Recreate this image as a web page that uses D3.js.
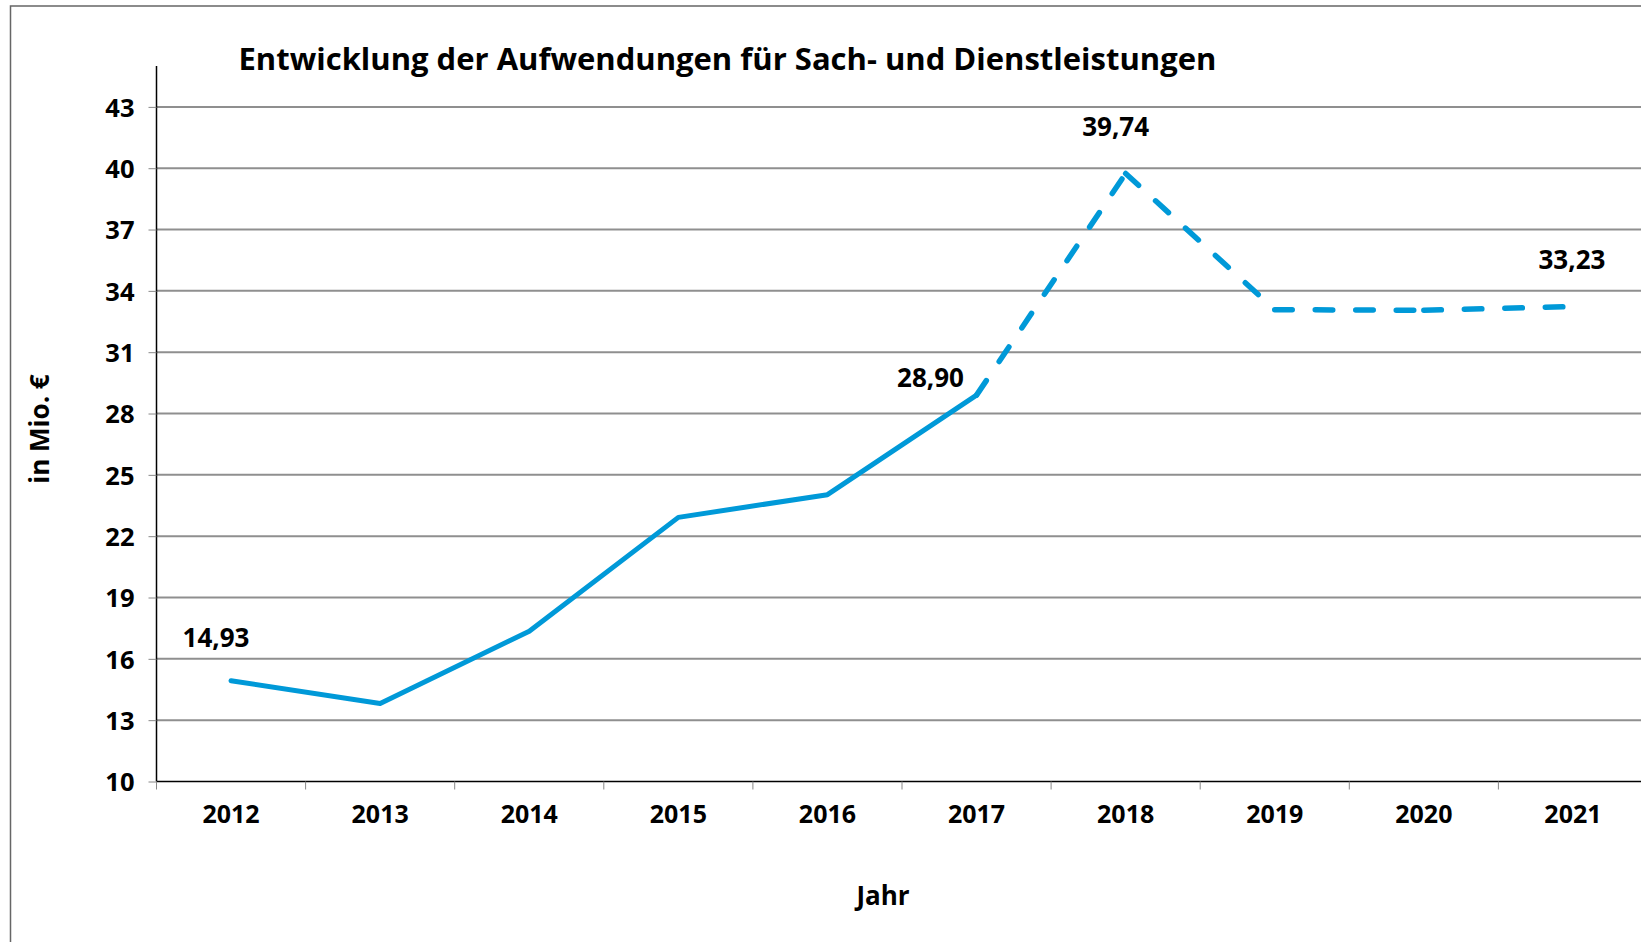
<!DOCTYPE html>
<html>
<head>
<meta charset="utf-8">
<script src="https://cdn.jsdelivr.net/npm/d3@7"></script>
<style>
    body { margin: 0; background: #fff; }
    text { font-family: "Open Sans", "Noto Sans", sans-serif; font-weight: bold; fill: #000; }
</style>
</head>
<body>
<div id="chart"></div>
<script>
// chart data
let years = ["2012", "2013", "2014", "2015", "2016", "2017", "2018", "2019", "2020", "2021"];
let values = [14.93, 13.82, 17.35, 22.92, 24.03, 28.90, 39.74, 33.08, 33.05, 33.23];
let yTicks = [10, 13, 16, 19, 22, 25, 28, 31, 34, 37, 40, 43];
let labelYears = ["2012", "2017", "2018", "2021"];
let labelTexts = ["14,93", "28,90", "39,74", "33,23"];
let solidUntil = "2017"; // dashed from here on

(function(){
    let w = 1641, h = 942;
    let blue = "#0099d8";

    let svg = d3.select("#chart").append("svg")
        .attr("width", w)
        .attr("height", h);

    // outer frame (runs off right and bottom)
    svg.append("path")
        .attr("d", "M10.5," + h + "V6H" + w)
        .attr("fill", "none")
        .attr("stroke", "#666")
        .attr("stroke-width", 1.5);

    let x = d3.scaleBand()
        .domain(years)
        .range([156.5, 1647.5])
        .padding(0);

    let y = d3.scaleLinear()
        .domain([10, 45])
        .range([781.5, 66]);

    let cx = d => x(d) + x.bandwidth() / 2;

    // gridlines
    svg.append("g")
        .selectAll("line")
        .data(yTicks.filter(t => t > 10))
        .join("line")
        .attr("x1", 156.5)
        .attr("x2", w)
        .attr("y1", d => y(d))
        .attr("y2", d => y(d))
        .attr("stroke", "#8f8f8f")
        .attr("stroke-width", 2);

    // y axis
    let yAxis = svg.append("g")
        .attr("transform", "translate(156.5,0)")
        .call(d3.axisLeft(y).tickValues(yTicks).tickSize(8).tickPadding(14).tickFormat(d3.format("d")));
    yAxis.select(".domain")
        .attr("d", "M0," + y(45) + "V" + y(10))
        .attr("stroke", "#000")
        .attr("stroke-width", 1.5);
    yAxis.selectAll(".tick line").attr("stroke", "#888");
    yAxis.selectAll(".tick text")
        .style("font-size", "25.5px")
        .attr("dy", "0.36em");

    // x axis, ticks at category borders
    let xAxis = svg.append("g")
        .attr("transform", "translate(0,781.5)");
    xAxis.append("line")
        .attr("x1", 156.5)
        .attr("x2", w)
        .attr("stroke", "#000")
        .attr("stroke-width", 1.5);
    xAxis.selectAll(".xtick")
        .data(years)
        .join("line")
        .attr("class", "xtick")
        .attr("x1", d => x(d))
        .attr("x2", d => x(d))
        .attr("y1", 0)
        .attr("y2", 8)
        .attr("stroke", "#888");
    xAxis.selectAll(".xlab")
        .data(years)
        .join("text")
        .attr("class", "xlab")
        .attr("x", d => cx(d))
        .attr("y", 41)
        .attr("text-anchor", "middle")
        .style("font-size", "25px")
        .text(d => d);

    // line
    let pts = years.map((d, i) => [cx(d), y(values[i])]);
    let cut = years.indexOf(solidUntil);

    svg.append("path")
        .attr("d", d3.line()(pts.slice(0, cut + 1)))
        .attr("fill", "none")
        .attr("stroke", blue)
        .attr("stroke-width", 5)
        .attr("stroke-linejoin", "round")
        .attr("stroke-linecap", "round");

    // dashes restart at every point
    let dashed = d3.range(cut, years.length - 1).map(i => [pts[i], pts[i + 1]]);
    svg.append("g")
        .selectAll("path")
        .data(dashed)
        .join("path")
        .attr("d", d => d3.line()(d))
        .attr("fill", "none")
        .attr("stroke", blue)
        .attr("stroke-width", 5.5)
        .attr("stroke-linecap", "round")
        .attr("stroke-dasharray", "17.5,23");

    // data labels
    let labelOffsets = {
        "2012": [-15, -34],
        "2017": [-46, -8],
        "2018": [-10, -38],
        "2021": [-1, -38]
    };
    svg.append("g")
        .selectAll("text")
        .data(labelYears)
        .join("text")
        .attr("x", d => cx(d) + labelOffsets[d][0])
        .attr("y", d => y(values[years.indexOf(d)]) + labelOffsets[d][1])
        .attr("text-anchor", "middle")
        .style("font-size", "26px")
        .text((d, i) => labelTexts[i]);

    // titles
    svg.append("text")
        .attr("x", 238.5)
        .attr("y", 69.5)
        .style("font-size", "31px")
        .text("Entwicklung der Aufwendungen für Sach- und Dienstleistungen");

    svg.append("text")
        .attr("transform", "translate(49,429) rotate(-90)")
        .attr("text-anchor", "middle")
        .style("font-size", "26px")
        .text("in Mio. €");

    svg.append("text")
        .attr("x", 883)
        .attr("y", 905)
        .attr("text-anchor", "middle")
        .style("font-size", "26px")
        .text("Jahr");
})();
</script>
</body>
</html>
